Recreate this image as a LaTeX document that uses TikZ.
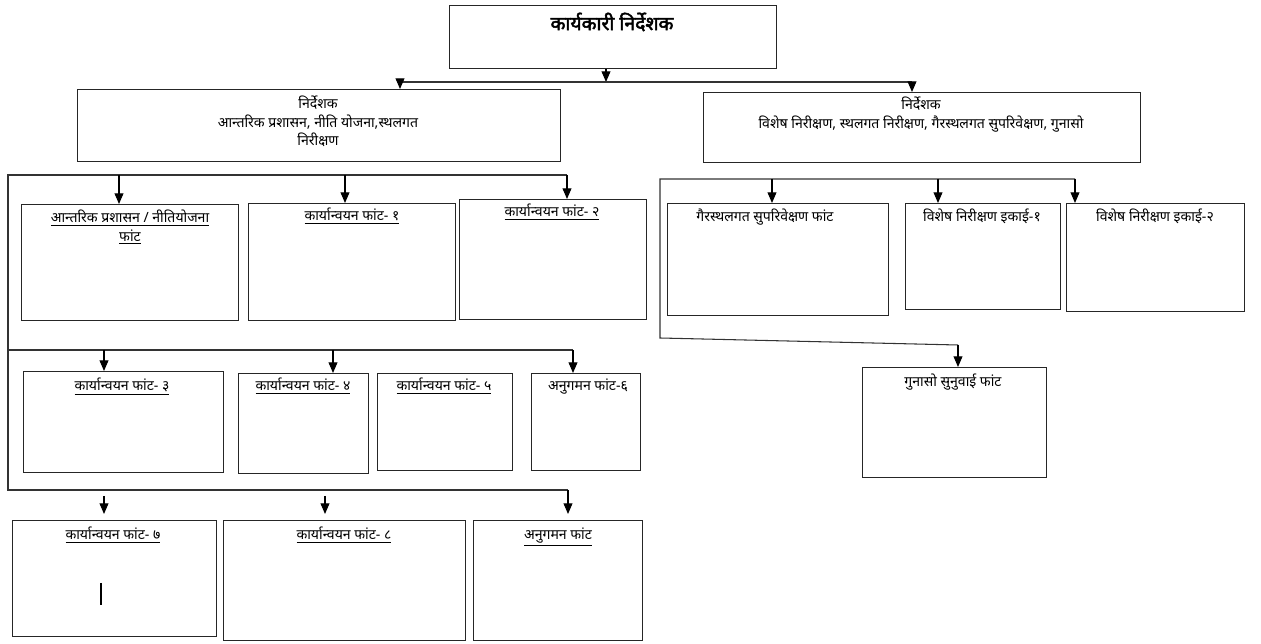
\documentclass[tikz,border=0pt]{standalone}
\usepackage{fontspec}
\setmainfont[Script=Devanagari]{Noto Sans}
\newfontfamily\ttlfont[Script=Devanagari, FakeBold=2.5]{Noto Sans}
\usetikzlibrary{arrows.meta}
\tikzset{
  box/.style={draw=black!85, line width=0.8pt, inner sep=0pt, fill=white},
  lbl/.style={inner sep=0pt, font=\fontsize{8}{10.5}\selectfont, align=center},
  ttl/.style={inner sep=0pt, font=\ttlfont\fontsize{11}{13}\selectfont},
  bus/.style={draw=black!80, line width=0.6pt},
  arr/.style={draw=black, line width=0.6pt, -{Triangle[width=5pt,length=6pt]}},
}
\newcommand\mybox[5]{\node[box, minimum width=#4*0.02cm, minimum height=#5*0.02cm, anchor=north west] (#1) at (#2,#3) {};}
\begin{document}
\begin{tikzpicture}[x=0.02cm,y=-0.02cm]
\useasboundingbox (0,0) rectangle (1261,644);
\fill[white] (0,0) rectangle (1261,644);
% boxes
\mybox{top}{449}{5}{327}{63}
\mybox{dL}{77}{89}{483}{72}
\mybox{dR}{703}{92}{437}{70}
\mybox{A}{21}{204}{217}{116}
\mybox{B}{248}{203}{207}{117}
\mybox{C}{459}{199}{187}{120}
\mybox{D}{23}{371}{200}{101}
\mybox{E}{238}{373}{130}{100}
\mybox{F}{377}{373}{135}{97}
\mybox{G}{531}{373}{109}{97}
\mybox{H}{12}{520}{204}{116}
\mybox{I}{223}{520}{242}{120}
\mybox{J}{473}{520}{169}{120}
\mybox{K}{667}{203}{221}{112}
\mybox{L}{905}{203}{155}{106}
\mybox{M}{1066}{203}{178}{108}
\mybox{N}{862}{367}{184}{110}
% texts
\node[ttl] (tTop) at (612,22) {कार्यकारी निर्देशक};
\node[lbl, anchor=north] (tdL) at (318,96) {निर्देशक\\आन्तरिक प्रशासन, नीति योजना,स्थलगत\\निरीक्षण};
\node[lbl, anchor=north] (tdR) at (921,97) {निर्देशक\\विशेष निरीक्षण, स्थलगत निरीक्षण, गैरस्थलगत सुपरिवेक्षण, गुनासो};
\node[lbl, anchor=north] (tA) at (130,210) {\underline{आन्तरिक प्रशासन / नीतियोजना}\\\underline{फांट}};
\node[lbl, anchor=north] (tB) at (352,208) {\underline{कार्यान्वयन फांट- १}};
\node[lbl, anchor=north] (tC) at (552,204) {\underline{कार्यान्वयन फांट- २}};
\node[lbl, anchor=north] (tD) at (122,378) {\underline{कार्यान्वयन फांट- ३}};
\node[lbl, anchor=north] (tE) at (303,378) {\underline{कार्यान्वयन फांट- ४}};
\node[lbl, anchor=north] (tF) at (444,378) {\underline{कार्यान्वयन फांट- ५}};
\node[lbl, anchor=north] (tG) at (588,378) {अनुगमन फांट-६};
\node[lbl, anchor=north] (tH) at (113,527) {\underline{कार्यान्वयन फांट- ७}};
\node[lbl, anchor=north] (tI) at (344,527) {\underline{कार्यान्वयन फांट- ८}};
\node[lbl, anchor=north] (tJ) at (558,527) {\underline{अनुगमन फांट}};
\node[lbl, anchor=north] (tK) at (765,209) {गैरस्थलगत सुपरिवेक्षण फांट};
\node[lbl, anchor=north] (tL) at (982,209) {विशेष निरीक्षण इकाई-१};
\node[lbl, anchor=north] (tM) at (1155,209) {विशेष निरीक्षण इकाई-२};
\node[lbl, anchor=north] (tN) at (953,374) {गुनासो सुनुवाई फांट};
% cursor mark
\draw[line width=0.7pt] (101,583) -- (101,605);
% top connectors
\coordinate (bT) at (606,82);
\coordinate (bL) at (400,82);
\coordinate (bR) at (912,82);
\draw[arr] (top.south -| bT) -- (bT);
\draw[bus] (bL) -- (bR);
\draw[arr] (bL) -- (dL.north -| bL);
\draw[arr] (bR) -- (dR.north -| bR);
% left bus
\coordinate (l1) at (567,175);
\coordinate (l0) at (8,175);
\coordinate (l2a) at (8,350);
\coordinate (l2b) at (573,350);
\coordinate (l3a) at (8,490);
\coordinate (l3b) at (568,490);
\draw[bus] (l1) -- (l0) -- (l3a) -- (l3b);
\draw[bus] (l2a) -- (l2b);
\draw[arr] (119,175) -- (A.north -| 119,0);
\draw[arr] (345,175) -- (B.north -| 345,0);
\draw[arr] (l1) -- (C.north -| l1);
\draw[arr] (104,350) -- (D.north -| 104,0);
\draw[arr] (333,350) -- (E.north -| 333,0);
\draw[arr] (l2b) -- (G.north -| l2b);
\draw[arr] (104,496) -- (104,514);
\draw[arr] (325,496) -- (325,514);
\draw[arr] (l3b) -- (568,514);
% right bus
\coordinate (r1) at (1075,179);
\coordinate (r0) at (660,179);
\coordinate (r2) at (660,338);
\coordinate (r3) at (958,345);
\draw[bus] (r1) -- (r0) -- (r2) -- (r3);
\draw[arr] (772,179) -- (K.north -| 772,0);
\draw[arr] (938,179) -- (L.north -| 938,0);
\draw[arr] (r1) -- (M.north -| r1);
\draw[arr] (r3) -- (N.north -| r3);
\end{tikzpicture}
\end{document}
